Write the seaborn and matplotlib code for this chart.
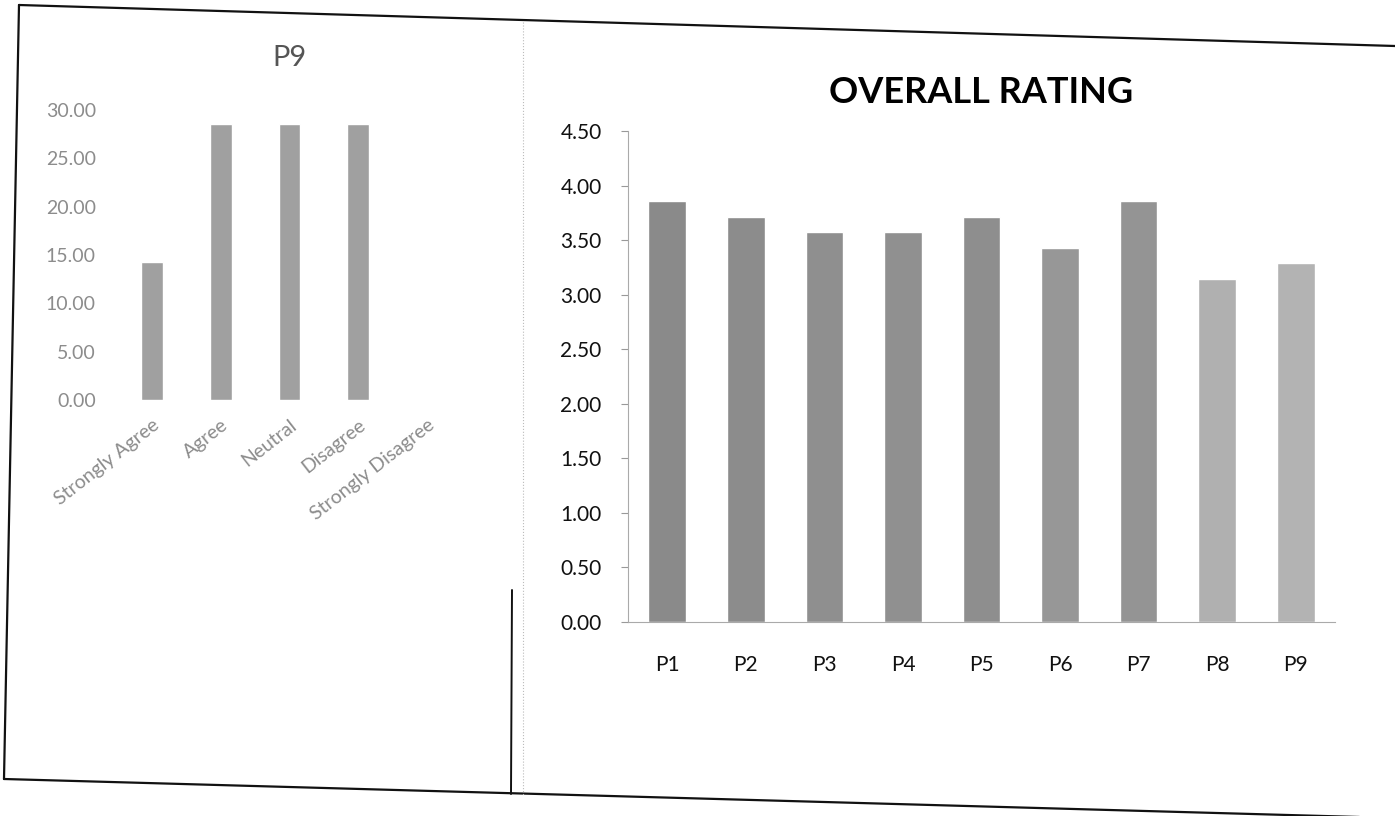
import matplotlib.pyplot as plt
import pandas as pd
import seaborn as sns
from matplotlib.lines import Line2D

# P9 response distribution (percent)
responses = ["Strongly Agree", "Agree", "Neutral", "Disagree", "Strongly Disagree"]
p9_percent = [14.29, 28.57, 28.57, 28.57, 0.00]

# overall rating per parameter
params = ["P1", "P2", "P3", "P4", "P5", "P6", "P7", "P8", "P9"]
ratings = [3.86, 3.71, 3.57, 3.57, 3.71, 3.43, 3.86, 3.14, 3.29]

left_colors = ["#a0a0a0"] * 5
right_colors = ["#8a8a8a", "#8c8c8c", "#8f8f8f", "#909090", "#8e8e8e",
                "#979797", "#949494", "#b0b0b0", "#b3b3b3"]

sns.set_style("white")
plt.rcParams["font.family"] = ["Lato", "DejaVu Sans"]

W, H = 1395, 816
fig = plt.figure(figsize=(W / 100, H / 100), dpi=100)


def fx(x):
    return x / W


def fy(y):
    return 1 - y / H


# ---- left chart: P9 distribution
ax1 = fig.add_axes([fx(118), fy(400), fx(461 - 118), (400 - 110) / H])
df1 = pd.DataFrame({"response": responses, "pct": p9_percent})
sns.barplot(data=df1, x="response", y="pct", hue="response", palette=left_colors,
            legend=False, width=0.32, ax=ax1)
ax1.set_xlim(-0.5, 4.5)
ax1.set_ylim(0, 30)
ax1.set_yticks([0, 5, 10, 15, 20, 25, 30])
ax1.set_yticklabels([f"{v:.2f}" for v in [0, 5, 10, 15, 20, 25, 30]],
                    fontsize=14, color="#8c8c8c")
ax1.set_xticks(range(len(responses)))
ax1.set_xticklabels(responses, rotation=38, ha="right", rotation_mode="anchor",
                    fontsize=14, color="#8c8c8c")
ax1.tick_params(axis="y", length=0, pad=16)
ax1.tick_params(axis="x", length=0, pad=12)
ax1.set_xlabel("")
ax1.set_ylabel("")
sns.despine(ax=ax1, left=True, bottom=True)
ax1.set_title("P9", fontsize=21, color="#555555", pad=32)

# ---- right chart: overall rating
ax2 = fig.add_axes([fx(628), fy(622), fx(1335 - 628), (622 - 131) / H])
df2 = pd.DataFrame({"param": params, "rating": ratings})
sns.barplot(data=df2, x="param", y="rating", hue="param", palette=right_colors,
            legend=False, width=0.48, ax=ax2)
ax2.set_xlim(-0.5, 8.5)
ax2.set_ylim(0, 4.5)
ticks = [i * 0.5 for i in range(10)]
ax2.set_yticks(ticks)
ax2.set_yticklabels([f"{v:.2f}" for v in ticks], fontsize=15, color="#111111")
ax2.set_xticks(range(len(params)))
ax2.set_xticklabels(params, fontsize=15, color="#111111")
ax2.tick_params(axis="y", length=5, width=0.8, color="#999999", direction="out", pad=14, left=True)
ax2.tick_params(axis="x", length=0, pad=24)
ax2.set_xlabel("")
ax2.set_ylabel("")
sns.despine(ax=ax2)
for side in ["left", "bottom"]:
    ax2.spines[side].set_color("#aaaaaa")
    ax2.spines[side].set_linewidth(0.8)
ax2.set_title("OVERALL RATING", fontsize=26, fontweight="bold", color="#000000", pad=20)

# ---- scanned page frame
frame = [
    ((19, 5), (1395, 46), "#111111", 1.6, "-"),
    ((19, 5), (4, 779), "#111111", 1.6, "-"),
    ((4, 779), (1395, 818), "#111111", 1.6, "-"),
    ((512, 590), (511, 794), "#111111", 1.4, "-"),
    ((523, 22), (523, 795), "#bbbbbb", 0.8, ":"),
]
for (x0, y0), (x1, y1), c, lw, ls in frame:
    fig.add_artist(Line2D([fx(x0), fx(x1)], [fy(y0), fy(y1)], color=c, lw=lw, ls=ls))

fig.savefig("out.png", dpi=100)
